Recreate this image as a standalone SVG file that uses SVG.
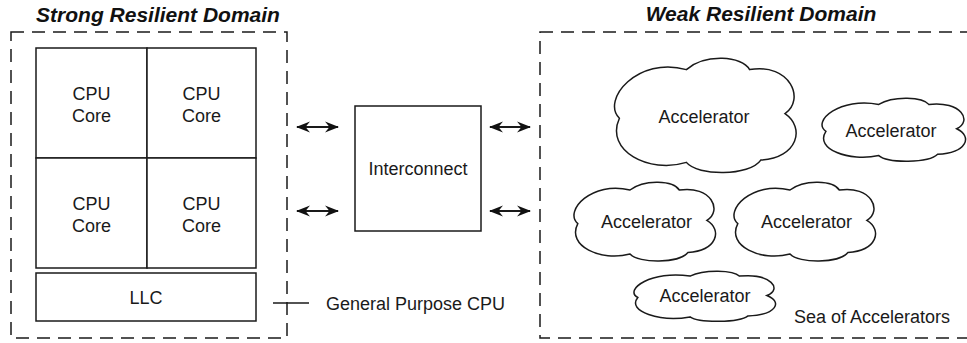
<svg xmlns="http://www.w3.org/2000/svg" width="967" height="343" viewBox="0 0 967 343">
  <style>
    .bg { fill: #ffffff; }
    .domain { fill: none; stroke: #1a1a1a; stroke-width: 1.5; stroke-dasharray: 13 8; }
    .box { fill: #ffffff; stroke: #1a1a1a; stroke-width: 1.5; }
    .cloud { fill: #ffffff; stroke: #1a1a1a; stroke-width: 1.5; stroke-linejoin: miter; }
    .link { fill: none; stroke: #1a1a1a; stroke-width: 2; }
    .lbl { font-family: "Liberation Sans", Arial, Helvetica, sans-serif; font-size: 18px; fill: #1a1a1a; text-anchor: middle; }
    .note { font-family: "Liberation Sans", Arial, Helvetica, sans-serif; font-size: 18px; fill: #1a1a1a; }
    .title { font-family: "Liberation Sans", Arial, Helvetica, sans-serif; font-size: 21px; font-weight: bold; font-style: italic; fill: #111111; text-anchor: middle; }
  </style>
  <defs>
    <marker id="head" viewBox="0 0 14 12" refX="13" refY="6" markerWidth="14" markerHeight="12" markerUnits="userSpaceOnUse" orient="auto-start-reverse">
      <path d="M0,0.5 L14,6 L0,11.5 L4.5,6 Z" fill="#111111"/>
    </marker>
  </defs>

  <rect class="bg" x="0" y="0" width="967" height="343"/>

  <!-- resilience domains -->
  <g id="strong-domain">
    <rect class="domain" x="11" y="32" width="276" height="306"/>
    <text class="title" x="158" y="22">Strong Resilient Domain</text>
  </g>
  <g id="weak-domain">
    <rect class="domain" x="540" y="32" width="440" height="306"/>
    <text class="title" x="761" y="21">Weak Resilient Domain</text>
  </g>

  <!-- general purpose CPU -->
  <g id="cpu-core-1">
    <rect class="box" x="36" y="48" width="111" height="110"/>
    <text class="lbl" x="91.5" y="100">CPU</text>
    <text class="lbl" x="91.5" y="122">Core</text>
  </g>
  <g id="cpu-core-2">
    <rect class="box" x="147" y="48" width="109" height="110"/>
    <text class="lbl" x="201.5" y="100">CPU</text>
    <text class="lbl" x="201.5" y="122">Core</text>
  </g>
  <g id="cpu-core-3">
    <rect class="box" x="36" y="158" width="111" height="110"/>
    <text class="lbl" x="91.5" y="210">CPU</text>
    <text class="lbl" x="91.5" y="232">Core</text>
  </g>
  <g id="cpu-core-4">
    <rect class="box" x="147" y="158" width="109" height="110"/>
    <text class="lbl" x="201.5" y="210">CPU</text>
    <text class="lbl" x="201.5" y="232">Core</text>
  </g>
  <g id="llc">
    <rect class="box" x="36" y="273" width="220" height="48"/>
    <text class="lbl" x="146" y="304">LLC</text>
  </g>
  <g id="cpu-label">
    <text class="note" x="326" y="310">General Purpose CPU</text>
  </g>

  <!-- interconnect -->
  <g id="interconnect">
    <rect class="box" x="355" y="106" width="126" height="125"/>
    <text class="lbl" x="418" y="175">Interconnect</text>
  </g>

  <!-- accelerators (cloud outlines) -->
  <g id="accel-1">
    <path class="cloud" d="M619.4,118.3 C600.8,99.8 638,55.7 686.4,69.6 C705,53.4 742.2,55.7 749.6,69.6 C790.6,62.6 805.4,99.8 785,113.7 C805.4,127.6 798,157.8 760.8,160.1 C749.6,176.3 697.6,176.3 686.4,162.4 C649.2,174 604.6,150.8 619.4,118.3 Z"/>
    <text class="lbl" x="704" y="123">Accelerator</text>
  </g>
  <g id="accel-2">
    <path class="cloud" d="M825.9,131.3 C811.2,121 840.6,96.7 878.8,104.4 C893.5,95.4 922.9,96.7 928.8,104.4 C961.1,100.6 972.9,121 956.7,128.7 C972.9,136.4 967,153 937.6,154.3 C928.8,163.3 887.6,163.3 878.8,155.6 C849.4,162 814.1,149.2 825.9,131.3 Z"/>
    <text class="lbl" x="891" y="137">Accelerator</text>
  </g>
  <g id="accel-3">
    <path class="cloud" d="M577.8,223.6 C563.3,210.8 592.3,180.4 630,190 C644.5,178.8 673.5,180.4 679.3,190 C711.2,185.2 722.8,210.8 706.9,220.4 C722.8,230 717,250.8 688,252.4 C679.3,263.6 638.7,263.6 630,254 C601,262 566.2,246 577.8,223.6 Z"/>
    <text class="lbl" x="646.5" y="228">Accelerator</text>
  </g>
  <g id="accel-4">
    <path class="cloud" d="M737.8,223.6 C723.3,210.8 752.3,180.4 790,190 C804.5,178.8 833.5,180.4 839.3,190 C871.2,185.2 882.8,210.8 866.9,220.4 C882.8,230 877,250.8 848,252.4 C839.3,263.6 798.7,263.6 790,254 C761,262 726.2,246 737.8,223.6 Z"/>
    <text class="lbl" x="806.5" y="228">Accelerator</text>
  </g>
  <g id="accel-5">
    <path class="cloud" d="M637.8,297.5 C623.3,289.4 652.3,270 690,276.1 C704.5,269 733.5,270 739.3,276.1 C771.2,273 782.8,289.4 766.9,295.5 C782.8,301.6 777,314.9 748,315.9 C739.3,323 698.7,323 690,316.9 C661,322 626.2,311.8 637.8,297.5 Z"/>
    <text class="lbl" x="705" y="302">Accelerator</text>
  </g>
  <g id="sea-label">
    <text class="note" x="794" y="323">Sea of Accelerators</text>
  </g>

  <!-- connectors -->
  <g id="connectors">
    <line class="link" x1="297" y1="127" x2="338" y2="127" marker-start="url(#head)" marker-end="url(#head)"/>
    <line class="link" x1="297" y1="211" x2="338" y2="211" marker-start="url(#head)" marker-end="url(#head)"/>
    <line class="link" x1="490" y1="127" x2="530" y2="127" marker-start="url(#head)" marker-end="url(#head)"/>
    <line class="link" x1="490" y1="211" x2="530" y2="211" marker-start="url(#head)" marker-end="url(#head)"/>
    <line class="link" x1="273" y1="303" x2="309" y2="303" style="stroke-width:1.5"/>
  </g>
</svg>
